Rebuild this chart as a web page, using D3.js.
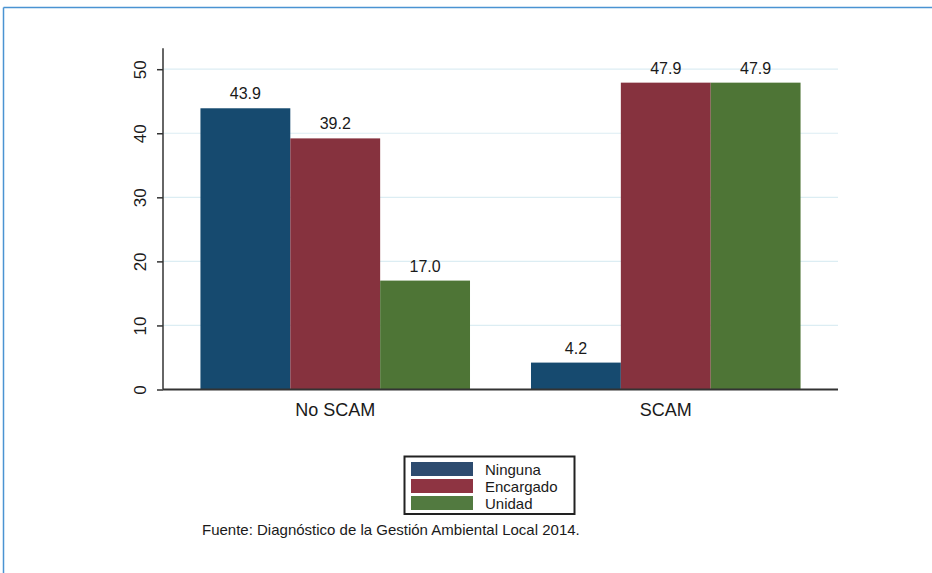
<!DOCTYPE html>
<html>
<head>
<meta charset="utf-8">
<script src="https://cdn.jsdelivr.net/npm/d3@7"></script>
<style>
  html, body { margin: 0; padding: 0; background: #ffffff; }
  svg { display: block; font-family: "Liberation Sans", Arial, Helvetica, sans-serif; }
</style>
</head>
<body>
<svg id="chart" width="932" height="573"></svg>
<script>
// Data
const categories = ["No SCAM", "SCAM"];
const seriesNames = ["Ninguna", "Encargado", "Unidad"];
const ninguna = [43.9, 4.2];
const encargado = [39.2, 47.9];
const unidad = [17.0, 47.9];
const yTicks = [0, 10, 20, 30, 40, 50];
const sourceNote = "Fuente: Diagnóstico de la Gestión Ambiental Local 2014.";

const seriesValues = [ninguna, encargado, unidad];
const barColors = ["#164a6f", "#86323e", "#4e7536"];
const legendColors = ["#2d4b6f", "#8e3442", "#527a40"];

const svg = d3.select("#chart");

// Page frame
svg.append("line").attr("x1", 3.5).attr("x2", 932).attr("y1", 7.5).attr("y2", 7.5)
  .attr("stroke", "#4a93d2").attr("stroke-width", 1.5);
svg.append("line").attr("x1", 3.5).attr("x2", 3.5).attr("y1", 7.5).attr("y2", 573)
  .attr("stroke", "#4a93d2").attr("stroke-width", 1.5);

// Scales
const plotLeft = 163, plotRight = 838;
const y = d3.scaleLinear().domain([0, 50]).range([389.5, 69.2]);
const x0 = d3.scaleBand().domain(categories).range([plotLeft, plotRight])
  .paddingInner(0.1845).paddingOuter(0.1133);
const x1 = d3.scaleBand().domain(seriesNames).range([0, x0.bandwidth()]).padding(0);

// Gridlines
svg.append("g").selectAll("line").data(yTicks.filter(t => t > 0)).join("line")
  .attr("x1", plotLeft).attr("x2", plotRight)
  .attr("y1", d => y(d)).attr("y2", d => y(d))
  .attr("stroke", "#dcedf3").attr("stroke-width", 1.2);

// Bars
const rows = categories.map((c, i) => ({
  cat: c,
  vals: seriesNames.map((s, j) => ({ series: s, idx: j, value: seriesValues[j][i] }))
}));

const groups = svg.append("g").selectAll("g").data(rows).join("g")
  .attr("transform", d => `translate(${x0(d.cat)},0)`);

groups.selectAll("rect").data(d => d.vals).join("rect")
  .attr("x", d => x1(d.series))
  .attr("width", x1.bandwidth())
  .attr("y", d => y(d.value))
  .attr("height", d => y(0) - y(d.value))
  .attr("fill", d => barColors[d.idx]);

groups.selectAll("text.val").data(d => d.vals).join("text")
  .attr("class", "val")
  .attr("x", d => x1(d.series) + x1.bandwidth() / 2)
  .attr("y", d => y(d.value) - 9)
  .attr("text-anchor", "middle")
  .attr("font-size", 16)
  .attr("fill", "#1a1a1a")
  .text(d => d.value.toFixed(1));

// Y axis
const yAxis = d3.axisLeft(y).tickValues(yTicks).tickSize(6).tickPadding(6).tickFormat(d3.format("d"));
const gy = svg.append("g").attr("transform", `translate(${plotLeft},0)`).call(yAxis);
gy.select(".domain").attr("stroke", "#333").attr("stroke-width", 1.5).attr("d", `M0,${y(0)}V${y(50) - 21}`);
gy.selectAll(".tick line").attr("stroke", "#333").attr("stroke-width", 1.5);
gy.selectAll(".tick text")
  .attr("font-size", 17)
  .attr("fill", "#1a1a1a")
  .attr("font-family", "Liberation Sans, Arial, sans-serif")
  .attr("x", 0).attr("y", 0).attr("dy", null)
  .attr("text-anchor", "middle")
  .attr("dominant-baseline", "central")
  .attr("transform", "translate(-23,0) rotate(-90)");

// X axis
const xAxis = d3.axisBottom(x0).tickSize(0).tickPadding(14);
const gx = svg.append("g").attr("transform", `translate(0,${y(0)})`).call(xAxis);
gx.select(".domain").attr("stroke", "#333").attr("stroke-width", 2).attr("d", `M${plotLeft},0H${plotRight}`);
gx.selectAll(".tick text")
  .attr("font-size", 18)
  .attr("fill", "#1a1a1a")
  .attr("font-family", "Liberation Sans, Arial, sans-serif");

// Legend
const legend = svg.append("g");
legend.append("rect").attr("x", 404.5).attr("y", 456.5).attr("width", 170).attr("height", 57.5)
  .attr("fill", "#fff").attr("stroke", "#222").attr("stroke-width", 2);
const li = legend.selectAll("g.item").data(seriesNames).join("g").attr("class", "item")
  .attr("transform", (d, i) => `translate(411,${462 + i * 17})`);
li.append("rect").attr("width", 62).attr("height", 14).attr("fill", (d, i) => legendColors[i]);
li.append("text").attr("x", 74).attr("y", 7).attr("dominant-baseline", "central")
  .attr("font-size", 15).attr("fill", "#1a1a1a").text(d => d);

// Source note
svg.append("text").attr("x", 202).attr("y", 535).attr("font-size", 15).attr("fill", "#1a1a1a")
  .text(sourceNote);
</script>
</body>
</html>
